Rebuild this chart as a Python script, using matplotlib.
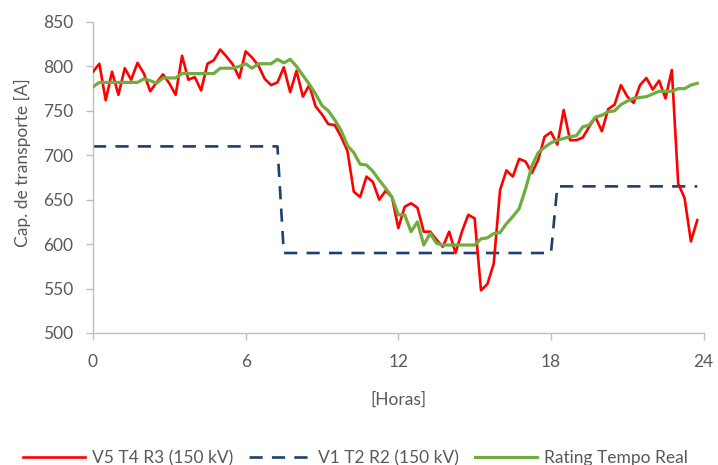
import numpy as np
import matplotlib
matplotlib.use("Agg")
import matplotlib.pyplot as plt

plt.rcParams['font.family'] = ['Lato', 'DejaVu Sans']

# 15-min samples, 0h .. 23h45
hours = np.arange(96) * 0.25

red_v5 = [794, 803, 762, 794, 768, 798, 785, 804, 792, 772, 782, 791,
          781, 768, 812, 785, 788, 773, 803, 807, 819, 811, 802, 787,
          817, 810, 801, 786, 779, 782, 799, 771, 795, 766, 779, 755,
          746, 735, 734, 721, 705, 659, 653, 676, 670, 650, 660, 653,
          618, 642, 646, 641, 614, 614, 605, 597, 614, 590, 614, 633,
          629, 548, 555, 578, 661, 683, 676, 696, 693, 680, 695, 721,
          726, 712, 751, 717, 717, 720, 732, 743, 727, 752, 757, 779,
          766, 759, 779, 787, 774, 784, 764, 796, 668, 652, 603, 627]

blue_v1 = [710] * 30 + [590] * 43 + [665] * 23

green_rt = [777, 782, 782, 782, 782, 782, 782, 782, 786, 784, 781, 787,
            787, 787, 792, 792, 792, 792, 792, 792, 798, 798, 798, 800,
            803, 798, 803, 803, 803, 808, 804, 808, 800, 790, 780, 769,
            756, 750, 740, 728, 711, 703, 690, 689, 682, 672, 663, 653,
            633, 633, 614, 625, 599, 612, 601, 599, 599, 599, 599, 599,
            599, 606, 607, 612, 613, 623, 631, 640, 662, 688, 703, 709,
            714, 717, 719, 721, 722, 732, 734, 743, 745, 749, 750, 757,
            761, 764, 765, 766, 769, 772, 772, 772, 775, 775, 779, 781]

labels = ["V5 T4 R3 (150 kV)", "V1 T2 R2 (150 kV)", "Rating Tempo Real"]

fig = plt.figure(figsize=(7.18, 4.65), dpi=100)
ax = fig.add_axes([0.1295, 0.2839, 0.8505, 0.6688])

ax.plot(hours, red_v5, color="#FF0000", lw=1.9, label=labels[0], zorder=3)
ax.plot(hours, blue_v1, color="#1F3F6E", lw=1.9, ls=(0, (5, 3.5)), label=labels[1], zorder=2)
ax.plot(hours, green_rt, color="#6FAD3F", lw=2.3, label=labels[2], zorder=4)

ax.set_xlim(0, 24)
ax.set_ylim(500, 850)
ax.set_xticks([0, 6, 12, 18, 24])
ax.set_yticks(np.arange(500, 851, 50))

for s in ["top", "right"]:
    ax.spines[s].set_visible(False)
for s in ["left", "bottom"]:
    ax.spines[s].set_color("#BFBFBF")
    ax.spines[s].set_linewidth(1.0)

ax.tick_params(axis="both", colors="#BFBFBF", labelcolor="#595959",
               labelsize=12.5, length=5, width=1.0, direction="out")
ax.tick_params(axis="x", pad=10)
ax.tick_params(axis="y", pad=9)

ax.set_xlabel("[Horas]", fontsize=12.5, color="#595959", labelpad=16)
ax.set_ylabel("Cap. de transporte [A]", fontsize=12.5, color="#595959", va="center")
ax.yaxis.set_label_coords(-0.116, 0.547)

fig.legend(loc="center", bbox_to_anchor=(0.495, 0.015), ncol=3, frameon=False,
           fontsize=12.5, labelcolor="#595959", handlelength=3.6,
           columnspacing=0.9, handletextpad=0.4)

fig.savefig("out.png", dpi=100)
